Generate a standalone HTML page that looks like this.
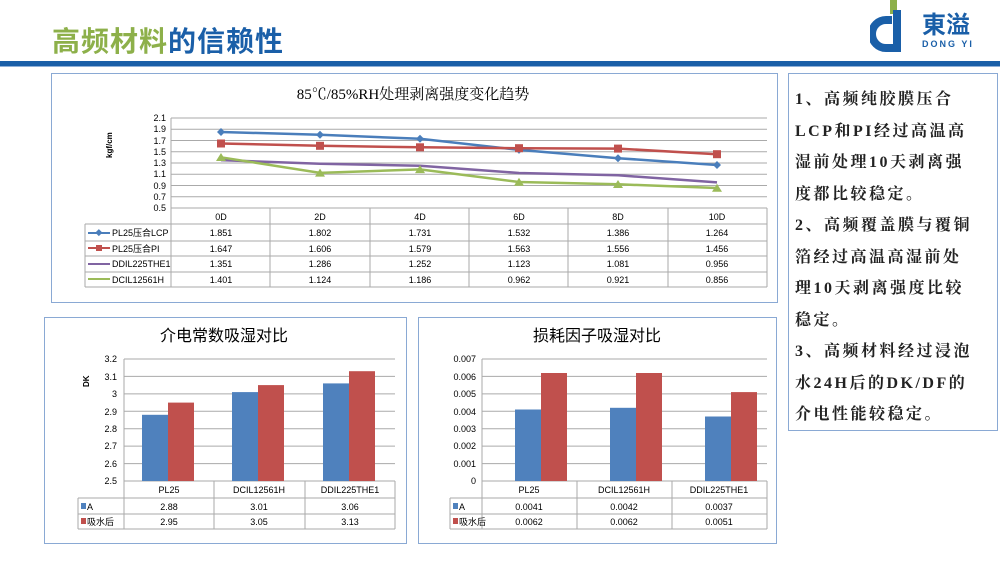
<!DOCTYPE html>
<html><head><meta charset="utf-8"><style>
body{margin:0;width:1000px;height:563px;background:#fff;position:relative;overflow:hidden;font-family:"Liberation Sans","Noto Sans CJK SC",sans-serif}
.abs{position:absolute}
</style></head><body>
<div class="abs" style="left:52px;top:20px;font-size:28px;font-weight:bold;letter-spacing:1px;font-family:'Noto Sans CJK SC',sans-serif"><span style="color:#8db04a">高频材料</span><span style="color:#1a5fa8">的信赖性</span></div>
<div class="abs" style="left:0;top:61px;width:1000px;height:5px;background:#1a5fa8"></div>
<div class="abs" style="left:0;top:66px;width:1000px;height:1px;background:#8fb0d8"></div>
<svg class="abs" style="left:870px;top:0" width="130" height="56">
<rect x="20" y="0" width="7" height="14" fill="#8db04a"/>
<path d="M27 10 V48 H16 A14 14 0 0 1 16 20 H22" fill="none" stroke="#1a5fa8" stroke-width="8"/>
<text x="52" y="33" font-size="24" font-weight="bold" fill="#1a5fa8" font-family="Noto Sans CJK SC">東溢</text>
<text x="52" y="47" font-size="9" font-weight="bold" fill="#1a5fa8" letter-spacing="2">DONG YI</text>
</svg>
<div class="abs" style="left:51px;top:73px;width:725px;height:228px;border:1px solid #8aa9d4"></div>
<div class="abs" style="left:788px;top:73px;width:208px;height:356px;border:1px solid #8aa9d4"></div>
<div class="abs" style="left:44px;top:317px;width:361px;height:225px;border:1px solid #8aa9d4"></div>
<div class="abs" style="left:418px;top:317px;width:357px;height:225px;border:1px solid #8aa9d4"></div>
<div class="abs" style="left:795px;top:84px;font-size:16px;font-weight:bold;line-height:31.5px;letter-spacing:2.5px;color:#222;font-family:'Liberation Serif','Noto Serif CJK SC',serif">1、高频纯胶膜压合<br>LCP和PI经过高温高<br>湿前处理10天剥离强<br>度都比较稳定。<br>2、高频覆盖膜与覆铜<br>箔经过高温高湿前处<br>理10天剥离强度比较<br>稳定。<br>3、高频材料经过浸泡<br>水24H后的DK/DF的<br>介电性能较稳定。</div>

<svg class="abs" style="left:0;top:0" width="1000" height="563" font-size="9" font-family="Liberation Sans,Noto Sans CJK SC,sans-serif">
<text x="413" y="99" font-size="15" text-anchor="middle" font-family="Liberation Serif,Noto Serif CJK SC,serif">85℃/85%RH处理剥离强度变化趋势</text>
<g stroke="#aaa" stroke-width="1">
<line x1="171" x2="767" y1="118" y2="118"/><line x1="171" x2="767" y1="129.25" y2="129.25"/><line x1="171" x2="767" y1="140.5" y2="140.5"/><line x1="171" x2="767" y1="151.75" y2="151.75"/><line x1="171" x2="767" y1="163" y2="163"/><line x1="171" x2="767" y1="174.25" y2="174.25"/><line x1="171" x2="767" y1="185.5" y2="185.5"/><line x1="171" x2="767" y1="196.75" y2="196.75"/>
<line x1="171" x2="767" y1="208" y2="208"/><line x1="85" x2="767" y1="224" y2="224"/><line x1="85" x2="767" y1="241" y2="241"/><line x1="85" x2="767" y1="256" y2="256"/><line x1="85" x2="767" y1="272" y2="272"/><line x1="85" x2="767" y1="287" y2="287"/>
<line x1="171" x2="171" y1="118" y2="287"/><line x1="270" x2="270" y1="208" y2="287"/><line x1="370" x2="370" y1="208" y2="287"/><line x1="469" x2="469" y1="208" y2="287"/><line x1="568" x2="568" y1="208" y2="287"/><line x1="668" x2="668" y1="208" y2="287"/><line x1="767" x2="767" y1="208" y2="287"/><line x1="85" x2="85" y1="224" y2="287"/>
</g>
<g text-anchor="end"><text x="166" y="121">2.1</text><text x="166" y="132">1.9</text><text x="166" y="144">1.7</text><text x="166" y="155">1.5</text><text x="166" y="166">1.3</text><text x="166" y="177">1.1</text><text x="166" y="189">0.9</text><text x="166" y="200">0.7</text><text x="166" y="211">0.5</text></g>
<text transform="translate(112,158) rotate(-90)" font-weight="bold" font-size="8">kgf/cm</text>
<g text-anchor="middle"><text x="221" y="220">0D</text><text x="320" y="220">2D</text><text x="420" y="220">4D</text><text x="519" y="220">6D</text><text x="618" y="220">8D</text><text x="717" y="220">10D</text>
<text x="221" y="236">1.851</text><text x="320" y="236">1.802</text><text x="420" y="236">1.731</text><text x="519" y="236">1.532</text><text x="618" y="236">1.386</text><text x="717" y="236">1.264</text>
<text x="221" y="252">1.647</text><text x="320" y="252">1.606</text><text x="420" y="252">1.579</text><text x="519" y="252">1.563</text><text x="618" y="252">1.556</text><text x="717" y="252">1.456</text>
<text x="221" y="267">1.351</text><text x="320" y="267">1.286</text><text x="420" y="267">1.252</text><text x="519" y="267">1.123</text><text x="618" y="267">1.081</text><text x="717" y="267">0.956</text>
<text x="221" y="283">1.401</text><text x="320" y="283">1.124</text><text x="420" y="283">1.186</text><text x="519" y="283">0.962</text><text x="618" y="283">0.921</text><text x="717" y="283">0.856</text></g>
<g><line x1="88" x2="110" y1="233" y2="233" stroke="#4a7ebb" stroke-width="2"/><rect x="96" y="230" width="5" height="5" fill="#4a7ebb" transform="rotate(45 98.5 233)"/><text x="112" y="236">PL25压合LCP</text>
<line x1="88" x2="110" y1="248" y2="248" stroke="#c0504d" stroke-width="2"/><rect x="96" y="245" width="6" height="6" fill="#c0504d"/><text x="112" y="252">PL25压合PI</text>
<line x1="88" x2="110" y1="264" y2="264" stroke="#8064a2" stroke-width="2"/><text x="112" y="267">DDIL225THE1</text>
<line x1="88" x2="110" y1="279" y2="279" stroke="#9bbb59" stroke-width="2"/><text x="112" y="283">DCIL12561H</text></g>
<polyline fill="none" stroke="#4a7ebb" stroke-width="2.5" points="221,132 320,134.8 420,138.8 519,149.9 618,158.2 717,165"/>
<polyline fill="none" stroke="#c0504d" stroke-width="2.5" points="221,143.5 320,145.8 420,147.3 519,148.2 618,148.6 717,154.2"/>
<polyline fill="none" stroke="#8064a2" stroke-width="2.5" points="221,160.1 320,163.8 420,165.7 519,173 618,175.3 717,182.4"/>
<polyline fill="none" stroke="#9bbb59" stroke-width="2.5" points="221,157.3 320,172.9 420,169.4 519,182 618,184.3 717,188"/>
<g fill="#4a7ebb"><path d="M221 128l4 4-4 4-4-4z"/><path d="M320 130.8l4 4-4 4-4-4z"/><path d="M420 134.8l4 4-4 4-4-4z"/><path d="M519 145.9l4 4-4 4-4-4z"/><path d="M618 154.2l4 4-4 4-4-4z"/><path d="M717 161l4 4-4 4-4-4z"/></g>
<g fill="#c0504d"><rect x="217" y="139.5" width="8" height="8"/><rect x="316" y="141.8" width="8" height="8"/><rect x="416" y="143.3" width="8" height="8"/><rect x="515" y="144.2" width="8" height="8"/><rect x="614" y="144.6" width="8" height="8"/><rect x="713" y="150.2" width="8" height="8"/></g>
<g fill="#9bbb59"><path d="M221 153l5 8h-10z"/><path d="M320 168.6l5 8h-10z"/><path d="M420 165.1l5 8h-10z"/><path d="M519 177.7l5 8h-10z"/><path d="M618 180l5 8h-10z"/><path d="M717 183.7l5 8h-10z"/></g>

<text x="224" y="341" font-size="16" text-anchor="middle">介电常数吸湿对比</text>
<g stroke="#aaa"><line x1="124" x2="395" y1="359" y2="359"/><line x1="124" x2="395" y1="376.4" y2="376.4"/><line x1="124" x2="395" y1="393.9" y2="393.9"/><line x1="124" x2="395" y1="411.3" y2="411.3"/><line x1="124" x2="395" y1="428.7" y2="428.7"/><line x1="124" x2="395" y1="446.1" y2="446.1"/><line x1="124" x2="395" y1="463.6" y2="463.6"/>
<line x1="124" x2="395" y1="481" y2="481"/><line x1="78" x2="395" y1="498" y2="498"/><line x1="78" x2="395" y1="514" y2="514"/><line x1="78" x2="395" y1="529" y2="529"/>
<line x1="124" x2="124" y1="359" y2="529"/><line x1="214" x2="214" y1="481" y2="529"/><line x1="305" x2="305" y1="481" y2="529"/><line x1="395" x2="395" y1="481" y2="529"/><line x1="78" x2="78" y1="498" y2="529"/></g>
<g fill="#4f81bd"><rect x="142" y="414.8" width="26" height="66.2"/><rect x="232" y="392.1" width="26" height="88.9"/><rect x="323" y="383.4" width="26" height="97.6"/></g>
<g fill="#c0504d"><rect x="168" y="402.6" width="26" height="78.4"/><rect x="258" y="385.1" width="26" height="95.9"/><rect x="349" y="371.2" width="26" height="109.8"/></g>
<g text-anchor="end"><text x="117" y="362">3.2</text><text x="117" y="380">3.1</text><text x="117" y="397">3</text><text x="117" y="415">2.9</text><text x="117" y="432">2.8</text><text x="117" y="449">2.7</text><text x="117" y="467">2.6</text><text x="117" y="484">2.5</text></g>
<text transform="translate(89,387) rotate(-90)" font-weight="bold" font-size="8">DK</text>
<g text-anchor="middle"><text x="169" y="493">PL25</text><text x="259" y="493">DCIL12561H</text><text x="350" y="493">DDIL225THE1</text>
<text x="169" y="510">2.88</text><text x="259" y="510">3.01</text><text x="350" y="510">3.06</text>
<text x="169" y="525">2.95</text><text x="259" y="525">3.05</text><text x="350" y="525">3.13</text></g>
<rect x="81" y="503" width="5" height="6" fill="#4f81bd"/><text x="87" y="510">A</text>
<rect x="81" y="518" width="5" height="6" fill="#c0504d"/><text x="87" y="525">吸水后</text>

<text x="597" y="341" font-size="16" text-anchor="middle">损耗因子吸湿对比</text>
<g stroke="#aaa"><line x1="482" x2="767" y1="359" y2="359"/><line x1="482" x2="767" y1="376.4" y2="376.4"/><line x1="482" x2="767" y1="393.9" y2="393.9"/><line x1="482" x2="767" y1="411.3" y2="411.3"/><line x1="482" x2="767" y1="428.7" y2="428.7"/><line x1="482" x2="767" y1="446.1" y2="446.1"/><line x1="482" x2="767" y1="463.6" y2="463.6"/>
<line x1="482" x2="767" y1="481" y2="481"/><line x1="450" x2="767" y1="498" y2="498"/><line x1="450" x2="767" y1="514" y2="514"/><line x1="450" x2="767" y1="529" y2="529"/>
<line x1="482" x2="482" y1="359" y2="529"/><line x1="577" x2="577" y1="481" y2="529"/><line x1="672" x2="672" y1="481" y2="529"/><line x1="767" x2="767" y1="481" y2="529"/><line x1="450" x2="450" y1="498" y2="529"/></g>
<g fill="#4f81bd"><rect x="515" y="409.5" width="26" height="71.5"/><rect x="610" y="407.8" width="26" height="73.2"/><rect x="705" y="416.5" width="26" height="64.5"/></g>
<g fill="#c0504d"><rect x="541" y="373" width="26" height="108"/><rect x="636" y="373" width="26" height="108"/><rect x="731" y="392.1" width="26" height="88.9"/></g>
<g text-anchor="end"><text x="476" y="362">0.007</text><text x="476" y="380">0.006</text><text x="476" y="397">0.005</text><text x="476" y="415">0.004</text><text x="476" y="432">0.003</text><text x="476" y="449">0.002</text><text x="476" y="467">0.001</text><text x="476" y="484">0</text></g>
<g text-anchor="middle"><text x="529" y="493">PL25</text><text x="624" y="493">DCIL12561H</text><text x="719" y="493">DDIL225THE1</text>
<text x="529" y="510">0.0041</text><text x="624" y="510">0.0042</text><text x="719" y="510">0.0037</text>
<text x="529" y="525">0.0062</text><text x="624" y="525">0.0062</text><text x="719" y="525">0.0051</text></g>
<rect x="453" y="503" width="5" height="6" fill="#4f81bd"/><text x="459" y="510">A</text>
<rect x="453" y="518" width="5" height="6" fill="#c0504d"/><text x="459" y="525">吸水后</text>
</svg>
</body></html>
